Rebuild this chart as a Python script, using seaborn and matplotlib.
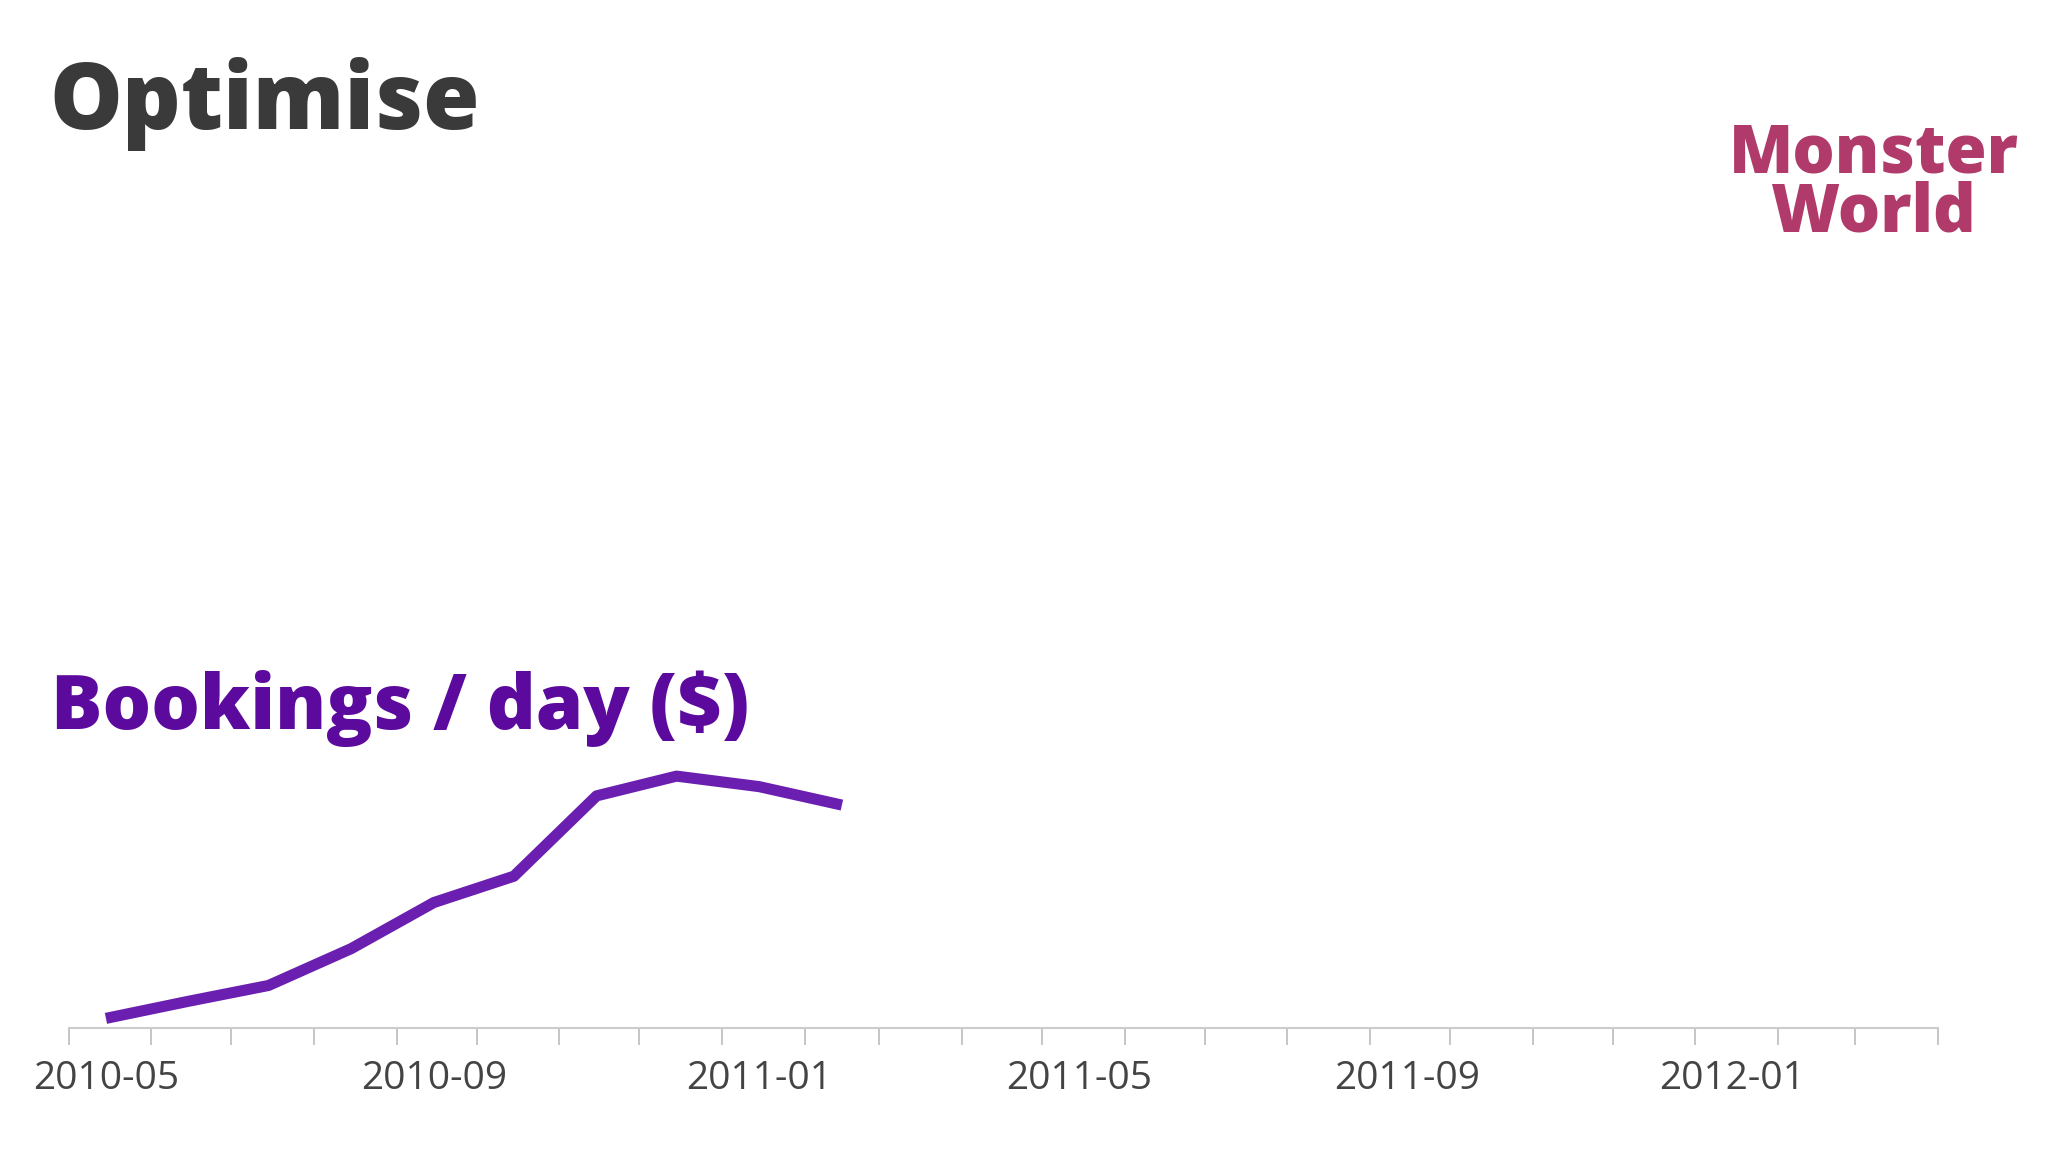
import matplotlib
matplotlib.use("Agg")
import matplotlib.pyplot as plt
import matplotlib.dates as mdates
import seaborn as sns
import pandas as pd

months = pd.date_range("2010-05-01", periods=10, freq="MS") + pd.Timedelta(days=14)
bookings = [7, 20, 32, 60, 95, 115, 176, 191, 183, 169]
tick_labels = ["2010-05", "2010-09", "2011-01", "2011-05", "2011-09", "2012-01"]

sns.set_theme(style="white")
plt.rcParams['font.family'] = ['Open Sans', 'DejaVu Sans']

fig = plt.figure(figsize=(20.48, 11.52), dpi=100)
ax = fig.add_axes([0.0335, 0.108, 0.9127, 0.80])
df = pd.DataFrame({"date": months, "v": bookings})
sns.lineplot(data=df, x="date", y="v", ax=ax, color="#6a1fb0", linewidth=8,
             solid_capstyle="butt")
ax.set_ylim(0, 700)
ax.set_xlim(pd.Timestamp("2010-05-01"), pd.Timestamp("2012-04-01"))
ax.xaxis.set_major_locator(mdates.MonthLocator())
ax.xaxis.set_major_formatter(plt.NullFormatter())
ax.tick_params(axis="x", which="major", length=12, width=1.2, color="#bbbbbb", bottom=True)
for lab in tick_labels:
    d = pd.Timestamp(lab + "-15")
    ax.text(mdates.date2num(d), -0.035, lab, transform=ax.get_xaxis_transform(),
            ha="center", va="top", fontsize=28, color="#444444")
ax.set_yticks([])
ax.set_xlabel(""); ax.set_ylabel("")
for s in ["top", "right", "left"]:
    ax.spines[s].set_visible(False)
ax.spines["bottom"].set_color("#cccccc")
ax.spines["bottom"].set_linewidth(1.5)

fig.text(0.024, 0.91, "Optimise", fontsize=66, fontweight="heavy", color="#3a3a3a", va="center")
fig.text(0.025, 0.385, "Bookings / day ($)", fontsize=55, fontweight="heavy", color="#5c0a9e", va="center")
fig.text(0.915, 0.84, "Monster\nWorld", fontsize=48, fontweight="heavy", color="#b03a6a",
         ha="center", va="center", linespacing=0.85)
fig.savefig("out.png", dpi=100, facecolor="white")
